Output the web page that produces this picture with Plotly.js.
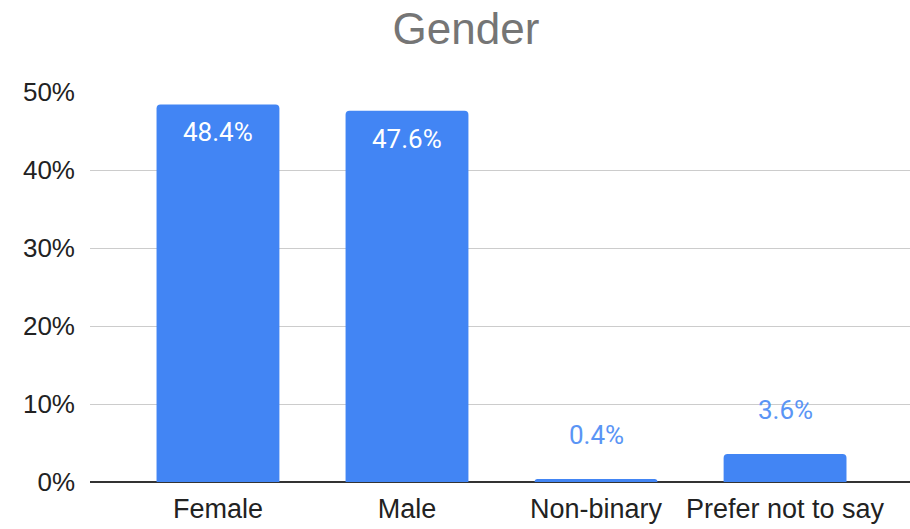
<!DOCTYPE html>
<html>
<head>
<meta charset="utf-8">
<script src="https://cdn.plot.ly/plotly-3.0.1.min.js"></script>
<style>html,body{margin:0;padding:0;background:#fff;}#chart{width:910px;height:529px;}</style>
</head>
<body>
<div id="chart"></div>
<script>
const categories = ["Female", "Male", "Non-binary", "Prefer not to say"];
const values = [48.4, 47.6, 0.4, 3.6];
const yTickValues = [0, 10, 20, 30, 40, 50];
const yTickLabels = ["0%", "10%", "20%", "30%", "40%", "50%"];

const FONT = "'Liberation Sans', Arial, sans-serif";
const LABEL_FONT = "Roboto, 'Liberation Sans', Arial, sans-serif";
const BLUE = "#4285F4";

const annotations = categories.map((c, i) => {
  const inside = values[i] > 10;
  return {
    x: c, y: values[i], xref: "x", yref: "y",
    text: values[i].toFixed(1) + "%",
    showarrow: false,
    yshift: inside ? -28 : 44,
    font: {family: LABEL_FONT, size: 26, color: inside ? "#ffffff" : "#5A95F5"}
  };
});

const trace = {
  type: "bar",
  x: categories,
  y: values,
  width: 0.65,
  marker: {color: BLUE},
  hoverinfo: "none"
};

const layout = {
  width: 910, height: 529,
  margin: {l: 90, r: 0, t: 92, b: 47},
  paper_bgcolor: "#fff", plot_bgcolor: "#fff",
  barcornerradius: 4,
  showlegend: false,
  title: {
    text: "Gender",
    font: {family: FONT, size: 44, color: "#757575"},
    x: 0.512, xanchor: "center",
    y: 1 - 29 / 529, yref: "container", yanchor: "middle"
  },
  xaxis: {
    type: "category",
    range: [-0.677, 3.661],
    showgrid: false,
    tickfont: {family: FONT, size: 27, color: "#222"},
    ticks: "",
    ticklabelstandoff: 8,
    showline: false,
    zeroline: false
  },
  yaxis: {
    range: [0, 50],
    tickvals: yTickValues,
    ticktext: yTickLabels,
    showgrid: true,
    gridcolor: "#cccccc",
    gridwidth: 1,
    zeroline: true,
    zerolinecolor: "#333333",
    zerolinewidth: 2,
    tickfont: {family: FONT, size: 26, color: "#222"},
    ticklabelstandoff: 14,
    showline: false
  },
  annotations: annotations
};

Plotly.newPlot("chart", [trace], layout, {displayModeBar: false, staticPlot: true});
</script>
</body>
</html>
